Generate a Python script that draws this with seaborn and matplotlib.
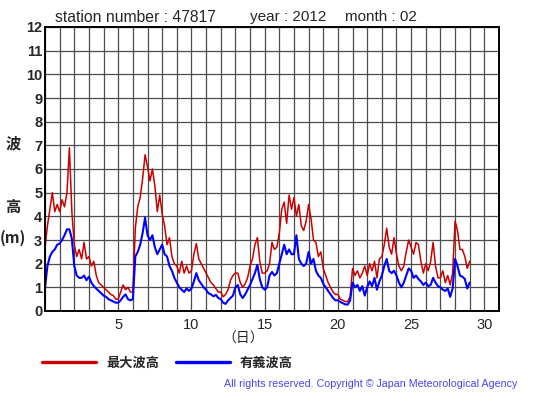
import numpy as np
import pandas as pd
import matplotlib
matplotlib.use('Agg')
import matplotlib.pyplot as plt
import seaborn as sns

# wave heights (m), read every 4 hours, station 47817, Feb 2012
max_wave = [
    2.7, 3.6, 4.3, 5.0, 4.2, 4.5,
    4.2, 4.7, 4.4, 5.0, 6.9, 4.2,
    2.8, 2.3, 2.6, 2.2, 2.9, 2.2,
    2.3, 1.9, 2.1, 1.5, 1.2, 1.1,
    1.0, 0.9, 0.8, 0.7, 0.65, 0.5,
    0.5, 0.8, 1.1, 0.9, 1.0, 0.8,
    0.8, 3.5, 4.4, 4.8, 5.6, 6.6,
    6.1, 5.5, 6.0, 5.3, 4.2, 4.9,
    4.1, 3.6, 2.8, 3.1, 2.3, 2.0,
    1.9, 1.6, 2.1, 1.6, 1.9, 1.6,
    1.7, 2.4, 2.85, 2.2, 2.0, 1.8,
    1.6, 1.4, 1.2, 1.1, 0.95, 0.8,
    0.8, 0.6, 0.7, 0.9, 1.3, 1.5,
    1.6, 1.6, 1.2, 1.0, 1.15, 1.4,
    1.9, 2.2, 2.8, 3.1, 2.1, 1.6,
    1.6, 1.7, 2.0, 2.9, 2.6, 2.7,
    3.3, 4.3, 4.6, 3.7, 4.9, 4.3,
    4.8, 4.0, 4.5, 3.6, 3.4, 3.8,
    4.5, 3.9, 3.0, 2.9, 2.3, 2.5,
    1.8, 1.5, 1.2, 1.0, 0.8, 0.7,
    0.7, 0.5, 0.45, 0.4, 0.4, 0.6,
    1.8, 1.5, 1.7, 1.4, 1.6, 1.9,
    1.5, 2.0, 1.7, 2.1, 1.4, 2.2,
    2.3, 2.8, 3.5, 2.7, 2.4, 3.1,
    2.4, 1.9, 1.7, 1.9, 2.5, 3.0,
    2.7, 2.4, 2.9, 2.8, 2.1, 1.6,
    2.0, 1.7, 2.1, 2.9, 1.9, 1.4,
    1.4, 1.7, 1.2, 1.5, 1.1, 1.6,
    3.8, 3.4, 2.6, 2.6, 2.3, 1.8,
    2.1,
]
sig_wave = [
    1.0, 1.9, 2.3, 2.5, 2.6, 2.8,
    2.85, 3.0, 3.2, 3.45, 3.45, 3.05,
    1.9, 1.5, 1.4, 1.4, 1.5, 1.3,
    1.45, 1.2, 1.05, 0.95, 0.85, 0.75,
    0.65, 0.6, 0.5, 0.45, 0.4, 0.35,
    0.35, 0.45, 0.6, 0.7, 0.5, 0.45,
    0.5, 2.3, 2.5, 2.8, 3.3, 3.95,
    3.2, 3.0, 3.2, 2.7, 2.4, 2.6,
    2.8, 2.4, 2.3, 1.9, 1.7, 1.4,
    1.2, 1.0, 0.9, 0.8, 0.95, 0.85,
    0.95, 1.25, 1.6, 1.3, 1.15, 1.0,
    0.9, 0.75, 0.7, 0.62, 0.68, 0.55,
    0.5, 0.35, 0.3, 0.45, 0.55, 0.65,
    1.0, 1.1, 0.7, 0.55, 0.7, 0.9,
    1.1, 1.35, 1.6, 1.95, 1.35, 1.0,
    0.9, 1.0, 1.5, 1.65, 1.5, 1.6,
    2.0, 2.4, 2.8, 2.4, 2.6, 2.4,
    2.4, 3.2, 2.2, 2.0, 1.9, 2.0,
    2.5, 2.0, 2.2, 1.7, 1.5, 1.4,
    1.15, 1.0, 0.85, 0.7, 0.55, 0.45,
    0.45, 0.38, 0.33, 0.28, 0.27, 0.45,
    1.2, 1.0, 1.1, 0.85, 1.05, 0.65,
    1.0, 1.25, 1.05, 1.4, 0.9, 1.25,
    1.5, 1.9, 2.2, 1.7, 1.6, 1.7,
    1.5, 1.2, 1.0, 1.2, 1.5, 1.8,
    1.7, 1.4, 1.5, 1.35, 1.25, 1.1,
    1.2, 1.05, 1.1, 1.4, 1.2, 1.05,
    1.0, 0.9, 0.85, 0.95, 0.6, 0.95,
    2.2, 1.9, 1.5, 1.45, 1.35, 0.95,
    1.2,
]
hours = np.arange(0, 29 * 24 + 1, 4)
day_ticks = [5, 10, 15, 20, 25, 30]
height_ticks = list(range(13))
labels = ['最大波高', '有義波高']

df = pd.DataFrame({'day': hours / 24, labels[0]: max_wave, labels[1]: sig_wave})

sns.set_style('white')
plt.rcParams['font.family'] = ['Liberation Sans', 'Noto Sans CJK JP', 'DejaVu Sans']

W, H = 555, 395
fig = plt.figure(figsize=(W / 100, H / 100), dpi=100)
ax = fig.add_axes([45 / W, 84 / H, 454 / W, 284 / H])

sns.lineplot(data=df, x='day', y=labels[0], color='#cc0000', lw=1.1,
             estimator=None, label=labels[0], ax=ax)
sns.lineplot(data=df, x='day', y=labels[1], color='#0000ff', lw=1.5,
             estimator=None, label=labels[1], ax=ax)

ax.set_xlim(0, 31)
ax.set_ylim(0, 12)
ax.set_xticks(day_ticks)
ax.set_xticks(range(32), minor=True)
ax.set_yticks(height_ticks)
ax.set_yticklabels([str(v) for v in height_ticks], fontweight='bold', fontsize=10.5)
ax.set_xticklabels([str(v) for v in day_ticks], fontsize=10.5)
ax.tick_params(length=0, which='both')
ax.tick_params(axis='x', pad=5)
ax.tick_params(axis='y', pad=2)
ax.grid(True, which='both', color='#4d4d4d', lw=0.9)
ax.set_axisbelow(True)
for s in ax.spines.values():
    s.set_color('black')
    s.set_linewidth(1.4)
ax.set_xlabel('')
ax.set_ylabel('')

# header
fig.text(55 / W, 1 - 17 / H, 'station number : 47817', fontsize=11.3, va='center')
fig.text(250 / W, 1 - 17 / H, 'year : 2012', fontsize=11, va='center')
fig.text(345 / W, 1 - 17 / H, 'month : 02', fontsize=11, va='center')

# axis labels
cjk = ['Noto Sans CJK JP', 'DejaVu Sans']
fig.text(13 / W, 1 - 143 / H, '波', family=cjk, fontweight='bold', fontsize=11, ha='center', va='center')
fig.text(13 / W, 1 - 207 / H, '高', family=cjk, fontweight='bold', fontsize=11, ha='center', va='center')
fig.text(13 / W, 1 - 238 / H, '(m)', family=cjk, fontweight='bold', fontsize=11, ha='center', va='center')
fig.text(243 / W, 1 - 339 / H, '（日）', family=cjk, fontsize=10, ha='center', va='center')

# legend under the chart
ax.get_legend().remove()
leg = fig.legend(handles=ax.lines[:2], labels=labels, loc='center left',
                 bbox_to_anchor=(42 / W, 1 - 363 / H), ncol=2, frameon=False,
                 prop={'family': 'Noto Sans CJK JP', 'weight': 'bold', 'size': 9.5},
                 handlelength=4.1, handletextpad=0.75, columnspacing=1.3,
                 borderpad=0, borderaxespad=0)
for h in leg.get_lines():
    h.set_linewidth(2.4)

fig.text(517 / W, 1 - 384 / H,
         'All rights reserved. Copyright © Japan Meteorological Agency',
         color='#4444ee', fontsize=7.7, ha='right', va='center')

fig.savefig('out.png', dpi=100, facecolor='white')
